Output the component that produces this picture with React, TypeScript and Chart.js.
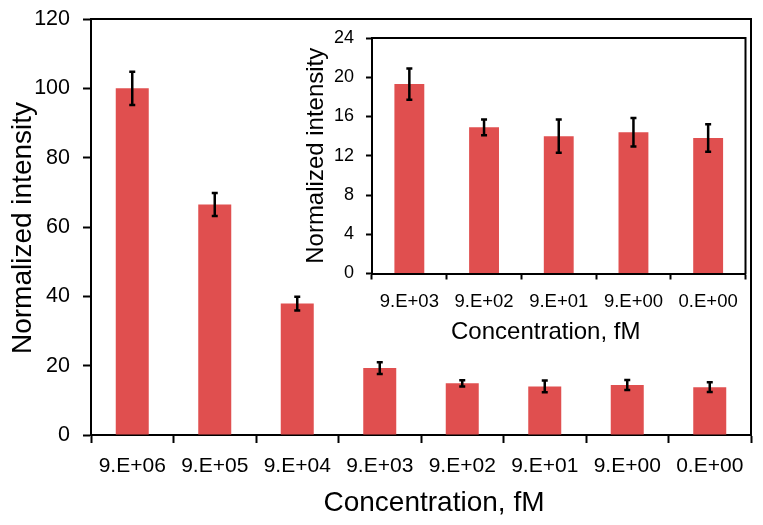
import React, { useEffect, useRef } from "react";
import { Chart, registerables } from "chart.js";

Chart.register(...registerables);

// ---- Data ----
const mainCategories = ["9.E+06", "9.E+05", "9.E+04", "9.E+03", "9.E+02", "9.E+01", "9.E+00", "0.E+00"];
const mainValues = [100, 66.5, 37.9, 19.3, 14.9, 14.0, 14.4, 13.8];
const mainErrors = [4.8, 3.3, 2.0, 1.7, 0.9, 1.7, 1.45, 1.4];
const mainYMin = 0;
const mainYMax = 120;
const mainYStep = 20;

const insetCategories = ["9.E+03", "9.E+02", "9.E+01", "9.E+00", "0.E+00"];
const insetValues = [19.3, 14.9, 14.0, 14.4, 13.8];
const insetErrors = [1.6, 0.8, 1.7, 1.45, 1.4];
const insetYMin = 0;
const insetYMax = 24;
const insetYStep = 4;

const xTitle = "Concentration, fM";
const yTitle = "Normalized intensity";

// ---- Styles ----
const FONT = "'Liberation Sans', Arial, Helvetica, sans-serif";
const BAR_COLOR = "#E04F4F";

const errorBarPlugin = {
  id: "errorBars",
  afterDatasetsDraw(chart: any, _args: any, opts: any) {
    const errs: number[] = opts.errors || [];
    const meta = chart.getDatasetMeta(0);
    const ys = chart.scales.y;
    const ctx = chart.ctx;
    const vals = chart.data.datasets[0].data as number[];
    ctx.save();
    ctx.strokeStyle = "#000";
    ctx.lineWidth = opts.lineWidth || 2.5;
    meta.data.forEach((bar: any, i: number) => {
      const e = errs[i];
      if (e == null) return;
      const x = bar.x;
      const yTop = ys.getPixelForValue(vals[i] + e);
      const yBot = ys.getPixelForValue(vals[i] - e);
      const cap = opts.cap || 3;
      ctx.beginPath();
      ctx.moveTo(x, yTop);
      ctx.lineTo(x, yBot);
      ctx.moveTo(x - cap, yTop);
      ctx.lineTo(x + cap, yTop);
      ctx.moveTo(x - cap, yBot);
      ctx.lineTo(x + cap, yBot);
      ctx.stroke();
    });
    ctx.restore();
  },
};

const frameAndTitlesPlugin = {
  id: "frameTitles",
  afterDraw(chart: any, _args: any, opts: any) {
    const { ctx, chartArea } = chart;
    ctx.save();
    // top and right frame lines
    ctx.strokeStyle = "#000";
    ctx.lineWidth = 2;
    ctx.beginPath();
    ctx.moveTo(chartArea.left - 1, chartArea.top);
    ctx.lineTo(chartArea.right, chartArea.top);
    ctx.lineTo(chartArea.right, chartArea.bottom + 1);
    ctx.stroke();
    // titles
    ctx.fillStyle = "#000";
    ctx.textAlign = "center";
    ctx.textBaseline = "middle";
    ctx.font = `${opts.xSize}px ${FONT}`;
    const cx = (chartArea.left + chartArea.right) / 2 + opts.xDx;
    ctx.fillText(opts.xText, cx, opts.xY);
    ctx.font = `${opts.ySize}px ${FONT}`;
    const cy = (chartArea.top + chartArea.bottom) / 2 + opts.yDy;
    ctx.translate(opts.yX, cy);
    ctx.rotate(-Math.PI / 2);
    ctx.fillText(opts.yText, 0, 0);
    ctx.restore();
  },
};

function zeroPad(s: any) {
  s.paddingTop = 0;
  s.paddingBottom = 0;
  s.paddingLeft = 0;
  s.paddingRight = 0;
}

function makeConfig(
  labels: string[],
  values: number[],
  errors: number[],
  yMin: number,
  yMax: number,
  yStep: number,
  dims: any
): any {
  return {
    type: "bar",
    data: {
      labels,
      datasets: [
        {
          data: values,
          backgroundColor: BAR_COLOR,
          borderWidth: 0,
          barPercentage: 0.4,
          categoryPercentage: 1,
        },
      ],
    },
    plugins: [errorBarPlugin, frameAndTitlesPlugin],
    options: {
      responsive: false,
      animation: false,
      devicePixelRatio: 1,
      layout: { padding: { top: dims.padTop, right: dims.padRight, left: 0, bottom: 0 } },
      plugins: {
        legend: { display: false },
        tooltip: { enabled: false },
        errorBars: { errors, cap: dims.cap, lineWidth: 2.5 },
        frameTitles: {
          xText: xTitle,
          yText: yTitle,
          xSize: dims.xTitleSize,
          ySize: dims.yTitleSize,
          xDx: dims.xTitleDx,
          xY: dims.xTitleY,
          yX: dims.yTitleX,
          yDy: dims.yTitleDy,
        },
      },
      scales: {
        x: {
          type: "category",
          offset: true,
          grid: {
            offset: true,
            drawOnChartArea: false,
            drawTicks: true,
            tickLength: dims.tickLen,
            tickColor: "#000",
            tickWidth: 2,
          },
          border: { display: true, color: "#000", width: 2 },
          ticks: {
            color: "#000",
            font: { family: FONT, size: dims.tickSizeX },
            padding: dims.xTickPad,
            maxRotation: 0,
            minRotation: 0,
            autoSkip: false,
          },
          afterFit: (s: any) => {
            s.height = dims.xHeight;
            zeroPad(s);
          },
        },
        y: {
          min: yMin,
          max: yMax,
          grid: {
            drawOnChartArea: false,
            drawTicks: true,
            tickLength: dims.tickLen,
            tickColor: "#000",
            tickWidth: 2,
          },
          border: { display: true, color: "#000", width: 2 },
          ticks: {
            stepSize: yStep,
            color: "#000",
            font: { family: FONT, size: dims.tickSizeY },
            padding: dims.yTickPad,
          },
          afterFit: (s: any) => {
            s.width = dims.yWidth;
            zeroPad(s);
          },
        },
      },
    },
  };
}

export default function App() {
  const mainRef = useRef<HTMLCanvasElement>(null);
  const insetRef = useRef<HTMLCanvasElement>(null);

  useEffect(() => {
    const main = new Chart(
      mainRef.current as HTMLCanvasElement,
      makeConfig(mainCategories, mainValues, mainErrors, mainYMin, mainYMax, mainYStep, {
        padTop: 19,
        padRight: 12,
        yWidth: 91,
        xHeight: 90,
        tickLen: 8,
        tickSizeX: 21,
        tickSizeY: 21.5,
        xTickPad: 11,
        yTickPad: 13,
        cap: 3,
        xTitleSize: 28,
        yTitleSize: 28,
        xTitleDx: 13,
        xTitleY: 503,
        yTitleX: 23,
        yTitleDy: 1,
      })
    );
    const inset = new Chart(
      insetRef.current as HTMLCanvasElement,
      makeConfig(insetCategories, insetValues, insetErrors, insetYMin, insetYMax, insetYStep, {
        padTop: 10,
        padRight: 6.5,
        yWidth: 72,
        xHeight: 76.5,
        tickLen: 6,
        tickSizeX: 18.5,
        tickSizeY: 18,
        xTickPad: 11,
        yTickPad: 12,
        cap: 3,
        xTitleSize: 24,
        yTitleSize: 24,
        xTitleDx: -13,
        xTitleY: 304,
        yTitleX: 16,
        yTitleDy: 0,
      })
    );
    return () => {
      main.destroy();
      inset.destroy();
    };
  }, []);

  return (
    <div
      style={{
        position: "fixed",
        left: 0,
        top: 0,
        width: 763,
        height: 525,
        background: "#fff",
      }}
    >
      <canvas
        ref={mainRef}
        width={763}
        height={525}
        style={{ position: "absolute", left: 0, top: 0, width: 763, height: 525 }}
      />
      <canvas
        ref={insetRef}
        width={452}
        height={322}
        style={{ position: "absolute", left: 300, top: 28, width: 452, height: 322 }}
      />
    </div>
  );
}
